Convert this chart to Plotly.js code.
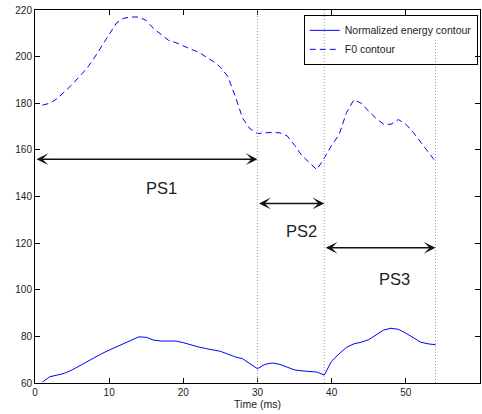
<!DOCTYPE html>
<html>
<head>
<meta charset="utf-8">
<script src="https://cdn.plot.ly/plotly-3.0.1.min.js"></script>
<style>html,body{margin:0;padding:0;background:#fff;}#chart{width:482px;height:414px;}</style>
</head>
<body>
<div id="chart"></div>
<script>
// Time axis (ms)
const time = [1,2,3,4,5,6,7,8,9,10,11,12,13,14,15,16,17,18,19,20,21,22,23,24,25,26,27,
              28,29,30,31,32,33,34,35,36,37,38,39,40,41,42,43,44,45,46,47,48,49,50,51,52,53,54];
// Normalized energy contour
const energy = [60.4,62.7,63.4,64.2,65.6,67.4,69.2,70.9,72.6,74.1,75.6,77.1,78.6,79.8,79.6,78.4,78.0,78.1,78.0,77.3,
                76.3,75.5,74.8,74.2,73.6,72.4,71.2,70.4,68.3,66.1,68.0,68.6,68.0,66.8,65.6,65.2,65.1,64.7,63.4,
                69.4,72.5,75.3,76.8,77.5,78.6,80.8,82.7,83.5,83.0,81.4,79.4,77.5,76.8,76.4];
// F0 contour
const f0 = [179.2,180.0,182.0,185.0,188.0,191.5,195.0,199.5,204.5,209.5,214.5,216.5,217.0,217.0,215.5,212.0,
            209.5,207.0,206.0,204.5,203.2,202.0,200.0,198.0,195.5,191.5,183.0,173.5,169.0,167.0,167.3,167.5,
            167.3,166.0,162.0,157.5,154.5,151.5,156.5,162.0,166.5,176.0,181.5,180.0,176.5,173.5,171.0,171.0,
            173.0,171.0,167.5,163.5,159.0,155.0];
// Segment boundaries (dotted lines) and their top ends
const boundaries = [30, 39, 54];
const boundaryTops = [220, 220, 208];
// Prosodic segments: labels, start, end, arrow level, label position
const segLabels = ["PS1", "PS2", "PS3"];
const segStart = [0, 30, 39];
const segEnd = [30, 39, 54];
const segArrowY = [156, 137, 118];
const segLabelX = [17, 35.9, 48.5];
const segLabelY = [143.5, 125, 104.5];
// Axis ticks
const xTicks = [0, 10, 20, 30, 40, 50, 60];
const yTicks = [60, 80, 100, 120, 140, 160, 180, 200, 220];

const FONT = "'Liberation Sans', Arial, Helvetica, sans-serif";

const traces = [
  {x: time, y: energy, type: 'scatter', mode: 'lines', name: 'Normalized energy contour',
   line: {color: '#0000ff', width: 1}},
  {x: time, y: f0, type: 'scatter', mode: 'lines', name: 'F0 contour',
   line: {color: '#0000ff', width: 1, dash: '6px,4px'}}
];

const shapes = boundaries.map((b, i) => ({
  type: 'line', xref: 'x', yref: 'y', x0: b, x1: b, y0: 60, y1: boundaryTops[i],
  line: {color: '#999', width: 1, dash: '1px,2px'}, layer: 'above'
}));

const annotations = [];
segLabels.forEach((lab, i) => {
  annotations.push({
    x: segEnd[i], y: segArrowY[i], ax: segStart[i], ay: segArrowY[i],
    xref: 'x', yref: 'y', axref: 'x', ayref: 'y',
    text: '', showarrow: true, arrowhead: 3, startarrowhead: 3, arrowside: 'end+start',
    arrowsize: 1.4, startarrowsize: 1.4, arrowwidth: 1.4, arrowcolor: '#111', standoff: 0, startstandoff: 0
  });
  annotations.push({
    x: segLabelX[i], y: segLabelY[i], xref: 'x', yref: 'y', text: lab, showarrow: false,
    font: {family: FONT, size: 16.5, color: '#222'}
  });
});

const axisCommon = {
  showgrid: false, zeroline: false, showline: true, linecolor: '#000', linewidth: 1,
  mirror: 'ticks', ticks: 'inside', ticklen: 5, tickcolor: '#000', tickwidth: 1,
  tickfont: {family: FONT, size: 10, color: '#222'}
};

const layout = {
  width: 482, height: 414,
  margin: {l: 35, r: 2, t: 10, b: 31},
  paper_bgcolor: '#fff', plot_bgcolor: '#fff',
  font: {family: FONT, color: '#222'},
  showlegend: true,
  legend: {x: 0.995, y: 0.987, xanchor: 'right', yanchor: 'top',
           bgcolor: 'rgba(255,255,255,0)', bordercolor: '#000', borderwidth: 1,
           font: {family: FONT, size: 10.5, color: '#222'}, tracegroupgap: 0},
  xaxis: Object.assign({}, axisCommon, {range: [0, 60], tickvals: xTicks, ticktext: xTicks.map(String),
    title: {text: 'Time (ms)', font: {family: FONT, size: 10.5, color: '#222'}, standoff: 2}}),
  yaxis: Object.assign({}, axisCommon, {range: [60, 220], tickvals: yTicks, ticktext: yTicks.map(String)}),
  shapes: shapes,
  annotations: annotations
};

Plotly.newPlot('chart', traces, layout, {displayModeBar: false, staticPlot: true});
</script>
</body>
</html>
